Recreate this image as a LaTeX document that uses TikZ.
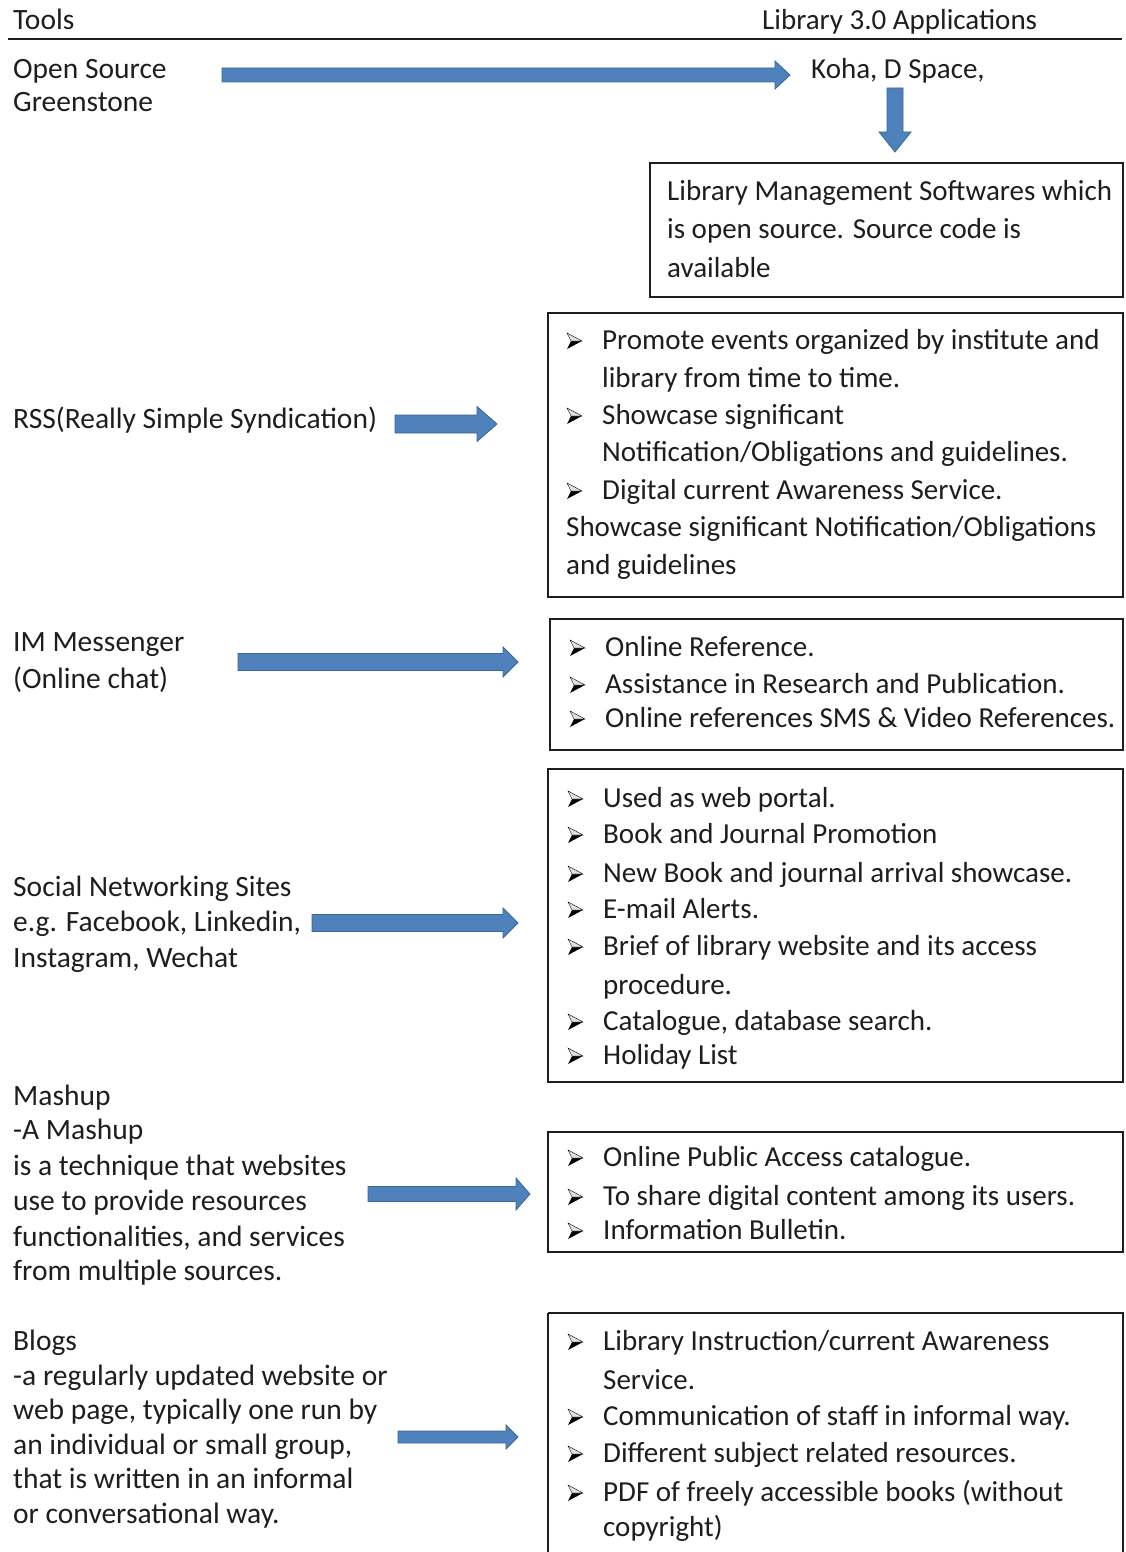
\documentclass[tikz,border=0pt]{standalone}
\usepackage{fontspec}
\setmainfont{Carlito}
\usetikzlibrary{calc}
\definecolor{arrowfill}{HTML}{4F81BD}
\definecolor{arrowline}{HTML}{3A6796}
\definecolor{inkcol}{HTML}{1E1E1E}
\tikzset{
  txt/.style={anchor=base west, inner sep=0pt, text=inkcol, font=\fontsize{29}{34}\selectfont},
  ltxt/.style={txt, font=\fontsize{29.5}{34}\selectfont},
  infobox/.style={draw=inkcol, line width=1.6pt},
  barrow/.style={fill=arrowfill, draw=arrowline, line width=0.8pt, line join=miter},
  rulestyle/.style={draw=inkcol, line width=2.2pt},
  bullet/.pic={
    \fill[black] (15,-8) -- (4,-8) -- (0,0) -- cycle;
    \filldraw[fill=black!12, draw=black, line width=0.4pt] (15,-8) -- (0,-16) -- (4,-8) -- cycle;
  }
}
% horizontal block arrow: start, end, shaft half, head half, head length
\newcommand{\harrow}[5]{%
  \path[barrow] let \p1=(#1), \p2=(#2) in
    (\x1,\y1+#3pt) -- (\x2-#5pt,\y1+#3pt) -- (\x2-#5pt,\y1+#4pt) -- (\x2,\y1)
    -- (\x2-#5pt,\y1-#4pt) -- (\x2-#5pt,\y1-#3pt) -- (\x1,\y1-#3pt) -- cycle;}
% downward block arrow
\newcommand{\varrow}[5]{%
  \path[barrow] let \p1=(#1), \p2=(#2) in
    (\x1-#3pt,\y1) -- (\x1-#3pt,\y2+#5pt) -- (\x1-#4pt,\y2+#5pt) -- (\x1,\y2)
    -- (\x1+#4pt,\y2+#5pt) -- (\x1+#3pt,\y2+#5pt) -- (\x1+#3pt,\y1) -- cycle;}
\begin{document}
\begin{tikzpicture}[x=1pt,y=-1pt]
\useasboundingbox (0,0) rectangle (1125,1552);
\fill[white] (0,0) rectangle (1125,1552);

% header
\node[ltxt] (hTools) at (13,30) {Tools};
\node[txt] (hApps) at (762,30) {Library 3.0 Applications};
\coordinate (ruleL) at (8,39);
\coordinate (ruleR) at (1122,39);
\draw[rulestyle] (ruleL) -- (ruleR);

% Open source
\node[ltxt] (os1) at (13,79) {Open Source};
\node[ltxt] (os2) at (13,112) {Greenstone};
\node[txt] (koha) at (811,79) {Koha, D Space,};
\coordinate (a1s) at (222,75);
\coordinate (a1e) at (790,75);
\harrow{a1s}{a1e}{7}{14}{15}
\coordinate (a0s) at (895,88);
\coordinate (a0e) at (895,152);
\varrow{a0s}{a0e}{8}{16}{20}
\draw[infobox] (650,163) rectangle (1123,297);
\node[txt] (b1l1) at (667,200) {Library Management Softwares which};
\node[txt] (b1l2) at (667,238) {is open source. Source code is};
\node[txt] (b1l3) at (667,277) {available};

% RSS
\node[ltxt] (rss) at (13,428) {RSS(Really Simple Syndication)};
\coordinate (a2s) at (395,424);
\coordinate (a2e) at (497,424);
\harrow{a2s}{a2e}{9}{17.5}{20}
\draw[infobox] (548,313) rectangle (1123,597);
\pic at (567,349) {bullet};
\node[txt] (b2l1) at (602,349) {Promote events organized by institute and};
\node[txt] (b2l2) at (602,387) {library from time to time.};
\pic at (567,424) {bullet};
\node[txt] (b2l3) at (602,424) {Showcase significant};
\node[txt] (b2l4) at (602,461) {Notification/Obligations and guidelines.};
\pic at (567,499) {bullet};
\node[txt] (b2l5) at (602,499) {Digital current Awareness Service.};
\node[txt] (b2l6) at (566,536) {Showcase significant Notification/Obligations};
\node[txt] (b2l7) at (566,574) {and guidelines};

% IM
\node[ltxt] (im1) at (13,651) {IM Messenger};
\node[ltxt] (im2) at (13,688) {(Online chat)};
\coordinate (a3s) at (238,662);
\coordinate (a3e) at (518,662);
\harrow{a3s}{a3e}{8.5}{15}{15}
\draw[infobox] (550,619) rectangle (1123,750);
\pic at (570,656) {bullet};
\node[txt] (b3l1) at (605,656) {Online Reference.};
\pic at (570,693) {bullet};
\node[txt] (b3l2) at (605,693) {Assistance in Research and Publication.};
\pic at (570,727) {bullet};
\node[txt] (b3l3) at (605,727) {Online references SMS \& Video References.};

% Social
\node[ltxt] (sn1) at (13,896) {Social Networking Sites};
\node[ltxt] (sn2) at (13,931) {e.g. Facebook, Linkedin,};
\node[ltxt] (sn3) at (13,967) {Instagram, Wechat};
\coordinate (a4s) at (312,923);
\coordinate (a4e) at (518,923);
\harrow{a4s}{a4e}{8.5}{15}{15}
\draw[infobox] (548,769) rectangle (1123,1082);
\pic at (568,807) {bullet};
\node[txt] (b4l1) at (603,807) {Used as web portal.};
\pic at (568,843) {bullet};
\node[txt] (b4l2) at (603,843) {Book and Journal Promotion};
\pic at (568,882) {bullet};
\node[txt] (b4l3) at (603,882) {New Book and journal arrival showcase.};
\pic at (568,918) {bullet};
\node[txt] (b4l4) at (603,918) {E-mail Alerts.};
\pic at (568,955) {bullet};
\node[txt] (b4l5) at (603,955) {Brief of library website and its access};
\node[txt] (b4l6) at (603,994) {procedure.};
\pic at (568,1030) {bullet};
\node[txt] (b4l7) at (603,1030) {Catalogue, database search.};
\pic at (568,1064) {bullet};
\node[txt] (b4l8) at (603,1064) {Holiday List};

% Mashup
\node[ltxt] (m1) at (13,1105) {Mashup};
\node[ltxt] (m2) at (13,1139) {-A Mashup};
\node[ltxt] (m3) at (13,1175) {is a technique that websites};
\node[ltxt] (m4) at (13,1210) {use to provide resources};
\node[ltxt] (m5) at (13,1246) {functionalities, and services};
\node[ltxt] (m6) at (13,1280) {from multiple sources.};
\coordinate (a5s) at (368,1194);
\coordinate (a5e) at (530,1194);
\harrow{a5s}{a5e}{7.5}{16}{14}
\draw[infobox] (548,1132) rectangle (1123,1252);
\pic at (568,1166) {bullet};
\node[txt] (b5l1) at (603,1166) {Online Public Access catalogue.};
\pic at (568,1205) {bullet};
\node[txt] (b5l2) at (603,1205) {To share digital content among its users.};
\pic at (568,1239) {bullet};
\node[txt] (b5l3) at (603,1239) {Information Bulletin.};

% Blogs
\node[ltxt] (bl1) at (13,1350) {Blogs};
\node[ltxt] (bl2) at (13,1385) {-a regularly updated website or};
\node[ltxt] (bl3) at (13,1419) {web page, typically one run by};
\node[ltxt] (bl4) at (13,1454) {an individual or small group,};
\node[ltxt] (bl5) at (13,1488) {that is written in an informal};
\node[ltxt] (bl6) at (13,1523) {or conversational way.};
\coordinate (a6s) at (398,1437);
\coordinate (a6e) at (518,1437);
\harrow{a6s}{a6e}{6}{12}{12}
\draw[infobox] (548,1313) -- (1123,1313) -- (1123,1560);
\draw[infobox] (548,1313) -- (548,1560);
\pic at (568,1350) {bullet};
\node[txt] (b6l1) at (603,1350) {Library Instruction/current Awareness};
\node[txt] (b6l2) at (603,1389) {Service.};
\pic at (568,1425) {bullet};
\node[txt] (b6l3) at (603,1425) {Communication of staff in informal way.};
\pic at (568,1462) {bullet};
\node[txt] (b6l4) at (603,1462) {Different subject related resources.};
\pic at (568,1501) {bullet};
\node[txt] (b6l5) at (603,1501) {PDF of freely accessible books (without};
\node[txt] (b6l6) at (603,1536) {copyright)};
\end{tikzpicture}
\end{document}
